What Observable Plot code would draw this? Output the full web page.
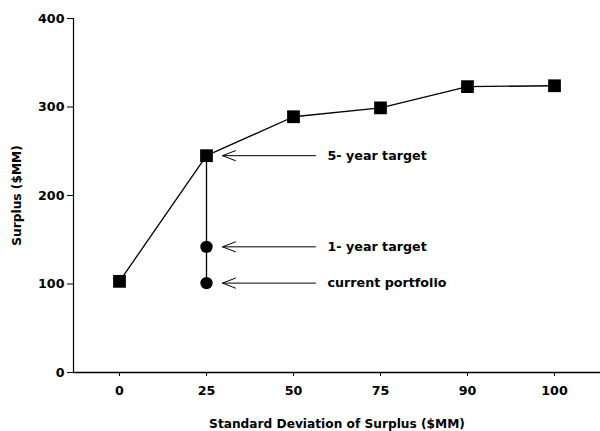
<!DOCTYPE html>
<html>
<head>
<meta charset="utf-8">
<script src="https://cdn.jsdelivr.net/npm/d3@7"></script>
<script src="https://cdn.jsdelivr.net/npm/@observablehq/plot@0.6"></script>
<style>
  html, body { margin: 0; padding: 0; background: #fff; }
  svg [aria-label="x-axis label"] text, svg [aria-label="y-axis label"] text { font-size: 12.2px; }
</style>
</head>
<body>
<div id="chart"></div>
<script>
// Efficient frontier: standard deviation of surplus ($MM) vs surplus ($MM)
const sdCategories = [0, 25, 50, 75, 90, 100];
const frontierSurplus = [103, 245, 289, 299, 323, 324];

// Current portfolio and 1-year target, both at SD = 25
const pathSd = [25, 25, 25];
const pathSurplus = [245, 142, 101];
const circleSd = [25, 25];
const circleSurplus = [142, 101];

// Annotations
const annotSd = [25, 25, 25];
const annotSurplus = [245, 142, 101];
const annotLabels = ["5- year target", "1- year target", "current portfolio"];

const yTicks = [0, 100, 200, 300, 400];

const frontier = sdCategories.map((sd, i) => ({sd, surplus: frontierSurplus[i]}));
const path = pathSd.map((sd, i) => ({sd, surplus: pathSurplus[i]}));
const circles = circleSd.map((sd, i) => ({sd, surplus: circleSurplus[i]}));
const annots = annotSd.map((sd, i) => ({sd, surplus: annotSurplus[i], label: annotLabels[i]}));

const leftArrow = {
  draw(context, l) {
    context.moveTo(0, 0);
    context.lineTo(0, -l);
    context.moveTo(-5, -l + 13);
    context.lineTo(0, -l);
    context.lineTo(5, -l + 13);
  }
};

const chart = Plot.plot({
  width: 600,
  height: 431,
  marginLeft: 73,
  marginRight: 0,
  marginTop: 18,
  marginBottom: 59,
  style: {
    fontFamily: "'DejaVu Sans', 'Liberation Sans', Arial, sans-serif",
    fontSize: "12.7px",
    fontWeight: "bold",
    background: "#fff",
    color: "#000"
  },
  x: {type: "point", domain: sdCategories, padding: 0.5},
  y: {type: "linear", domain: [0, 400]},
  marks: [
    Plot.frame({anchor: "left", stroke: "#000", strokeWidth: 1.2}),
    Plot.ruleY([0], {stroke: "#000", strokeWidth: 1.4}),
    Plot.axisY({
      ticks: yTicks,
      tickSize: 6,
      tickPadding: 3,
      label: "Surplus ($MM)",
      labelAnchor: "center",
      labelArrow: "none",
      labelOffset: 61
    }),
    Plot.axisX({
      tickSize: 4,
      tickPadding: 9,
      label: "Standard Deviation of Surplus ($MM)",
      labelAnchor: "center",
      labelArrow: "none",
      labelOffset: 55
    }),
    Plot.line(frontier, {x: "sd", y: "surplus", stroke: "#000", strokeWidth: 1.3}),
    Plot.line(path, {x: "sd", y: "surplus", stroke: "#000", strokeWidth: 1.3}),
    Plot.dot(frontier, {x: "sd", y: "surplus", symbol: "square", r: 7.2, fill: "#000", stroke: "none"}),
    Plot.dot(circles, {x: "sd", y: "surplus", symbol: "circle", r: 6.2, fill: "#000", stroke: "none"}),
    Plot.vector(annots, {
      x: "sd", y: "surplus",
      length: 93, rotate: -90, anchor: "start",
      dx: 109, shape: leftArrow,
      stroke: "#000", strokeWidth: 1
    }),
    Plot.text(annots, {
      x: "sd", y: "surplus", text: "label",
      textAnchor: "start", dx: 121,
      fill: "#000", fontSize: 12.7, fontWeight: "bold"
    })
  ]
});

document.getElementById("chart").appendChild(chart);
</script>
</body>
</html>
